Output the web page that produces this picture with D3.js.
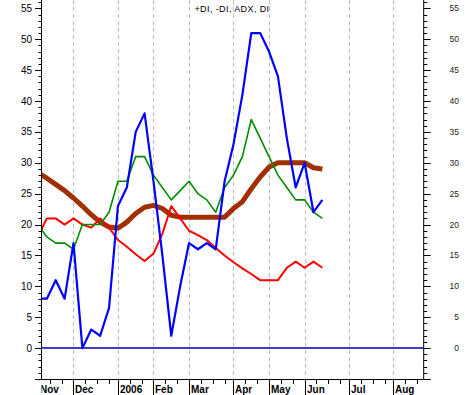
<!DOCTYPE html>
<html lang="en">
<head>
  <meta charset="UTF-8">
  <script src="https://d3js.org/d3.v7.min.js"></script>
  <style>
    body { margin: 0; background: #fff; }
    svg { display: block; font-family: "Liberation Sans", Arial, sans-serif; }
  </style>
</head>
<body>
  <script>
    const width = 465;
    const height = 395;

    // weekly bars, week 0 = first week of Dec 2005
    const weeks = d3.range(-4, 29);

    const di      = [8, 8, 11, 8, 17, 0, 3, 2, 6.5, 23, 26, 35, 38, 27, 15, 2, 10, 17, 16, 17, 16, 27, 33, 41, 51, 51, 48, 44, 34, 26, 30, 22, 24];
    const plusDI  = [20, 18, 17, 17, 16, 20, 20, 20, 22, 27, 27, 31, 31, 28, 26, 24, 25.5, 27, 25, 24, 22, 26, 28, 31, 37, 34, 31, 28, 26, 24, 24, 22, 21];
    const minusDI = [18, 21, 21, 20, 21, 20, 19.5, 21, 19.5, 17.5, 16.4, 15.2, 14.1, 15.3, 18.5, 23, 21, 19, 18.3, 17.5, 16.2, 15, 13.9, 12.9, 12, 11, 11, 11, 13, 14, 13, 14, 13];
    const adx     = [28.4, 27.5, 26.5, 25.5, 24.3, 23, 21.6, 20.4, 19.6, 19.4, 20.4, 21.8, 22.8, 23.1, 22.6, 21.5, 21.2, 21.2, 21.2, 21.2, 21.2, 21.2, 22.6, 23.7, 25.8, 27.7, 29.3, 30, 30, 30, 30, 29.2, 29];

    const monthLabels = ["Nov", "Dec", "2006", "Feb", "Mar", "Apr", "May", "Jun", "Jul", "Aug"];
    const monthWeeks  = [-4, 0, 5, 9, 13, 18, 22, 26, 31, 36];
    const yTicks = d3.range(0, 56, 5);

    const plotL = 41.5, plotR = 423.7, plotT = 0, plotB = 379;

    const x = d3.scaleLinear().domain([-3.6, 39.4]).range([plotL, plotR]);
    const y = d3.scaleLinear().domain([-5, 56.35]).range([plotB, plotT]);

    const svg = d3.select("body")
      .append("svg")
      .attr("width", width)
      .attr("height", height);

    const defs = svg.append("defs");
    defs.append("clipPath")
      .attr("id", "plot")
      .append("rect")
      .attr("x", plotL)
      .attr("y", plotT)
      .attr("width", plotR - plotL)
      .attr("height", plotB - plotT);

    defs.append("clipPath")
      .attr("id", "xlab")
      .append("rect")
      .attr("x", plotL)
      .attr("y", plotB)
      .attr("width", plotR - plotL)
      .attr("height", height - plotB);

    // month grid lines
    svg.append("g")
      .selectAll("line")
      .data(monthWeeks.filter(w => x(w) > plotL))
      .join("line")
      .attr("x1", d => Math.round(x(d)) + 0.5)
      .attr("x2", d => Math.round(x(d)) + 0.5)
      .attr("y1", plotT)
      .attr("y2", plotB)
      .attr("stroke", "#bdbdbd")
      .attr("stroke-dasharray", "4,3");

    // title
    svg.append("text")
      .attr("x", 232)
      .attr("y", 12)
      .attr("text-anchor", "middle")
      .attr("font-size", 9)
      .attr("letter-spacing", 0.4)
      .text("+DI, -DI, ADX, DI");

    // zero line
    svg.append("line")
      .attr("x1", plotL)
      .attr("x2", plotR)
      .attr("y1", y(0))
      .attr("y2", y(0))
      .attr("stroke", "#0000b4")
      .attr("stroke-width", 1.5);

    // series
    const line = d3.line()
      .x((d, i) => x(weeks[i]))
      .y(d => y(d));

    const series = [
      { values: adx, color: "#a03000", w: 5 },
      { values: minusDI, color: "#ff0000", w: 2 },
      { values: plusDI, color: "#008c00", w: 1.6 },
      { values: di, color: "#0000ff", w: 2.2 }
    ];

    svg.append("g")
      .attr("clip-path", "url(#plot)")
      .selectAll("path")
      .data(series)
      .join("path")
      .attr("d", d => line(d.values))
      .attr("fill", "none")
      .attr("stroke", d => d.color)
      .attr("stroke-width", d => d.w)
      .attr("stroke-linejoin", "round");

    // y axes
    const minor = d3.range(-5, 57, 1);
    const yAxis = svg.append("g").attr("stroke", "#000");

    yAxis.append("line")
      .attr("x1", plotL).attr("x2", plotL)
      .attr("y1", plotT).attr("y2", plotB);
    yAxis.append("line")
      .attr("x1", plotR).attr("x2", plotR)
      .attr("y1", plotT).attr("y2", plotB);

    yAxis.selectAll(".lt")
      .data(minor)
      .join("line")
      .attr("x1", plotL)
      .attr("x2", d => plotL - (d % 5 === 0 ? 6.5 : 3))
      .attr("y1", d => Math.round(y(d)) + 0.5)
      .attr("y2", d => Math.round(y(d)) + 0.5);

    yAxis.selectAll(".rt")
      .data(minor)
      .join("line")
      .attr("x1", plotR)
      .attr("x2", d => plotR + (d % 5 === 0 ? 7 : 3.5))
      .attr("y1", d => Math.round(y(d)) + 0.5)
      .attr("y2", d => Math.round(y(d)) + 0.5);

    svg.append("g")
      .selectAll("text")
      .data(yTicks)
      .join("text")
      .attr("x", 32)
      .attr("y", d => y(d) + 3.5)
      .attr("text-anchor", "end")
      .attr("font-size", 10)
      .text(d => d);

    svg.append("g")
      .selectAll("text")
      .data(yTicks)
      .join("text")
      .attr("x", 459)
      .attr("y", d => y(d) + 3)
      .attr("text-anchor", "end")
      .attr("font-size", 8.5)
      .attr("fill", "#222")
      .text(d => d);

    // x axis
    svg.append("line")
      .attr("x1", plotL)
      .attr("x2", plotR)
      .attr("y1", plotB + 0.5)
      .attr("y2", plotB + 0.5)
      .attr("stroke", "#000");

    const minorWeeks = [];
    monthWeeks.forEach((w, i) => {
      const next = i < monthWeeks.length - 1 ? monthWeeks[i + 1] : 40;
      for (let k = w + 4 / 3; k < next - 0.5; k += 4 / 3) minorWeeks.push(k);
    });

    svg.append("g")
      .selectAll("line")
      .data(minorWeeks.filter(w => x(w) > plotL && x(w) < plotR))
      .join("line")
      .attr("x1", d => Math.round(x(d)) + 0.5)
      .attr("x2", d => Math.round(x(d)) + 0.5)
      .attr("y1", plotB)
      .attr("y2", plotB + 5)
      .attr("stroke", "#000");

    svg.append("g")
      .selectAll("line")
      .data(monthWeeks.filter(w => x(w) > plotL))
      .join("line")
      .attr("x1", d => Math.round(x(d)) + 0.5)
      .attr("x2", d => Math.round(x(d)) + 0.5)
      .attr("y1", plotB)
      .attr("y2", height)
      .attr("stroke", "#000");

    svg.append("g")
      .attr("clip-path", "url(#xlab)")
      .selectAll("text")
      .data(monthLabels)
      .join("text")
      .attr("x", (d, i) => Math.round(x(monthWeeks[i])) + 2)
      .attr("y", 393)
      .attr("font-size", 10)
      .attr("font-weight", "bold")
      .text(d => d);
  </script>
</body>
</html>
